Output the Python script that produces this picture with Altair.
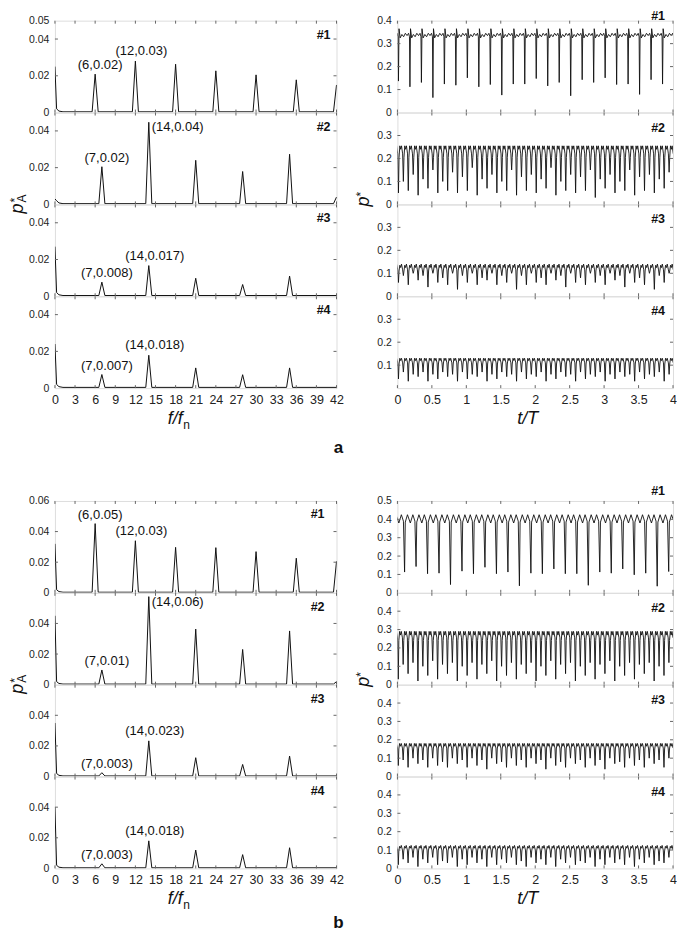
import altair as alt
import pandas as pd

FONT = "Liberation Sans"
INK = "#111111"
FRAME = "#666666"
LABEL = "#222222"

WL, WR, H, GAP_ROW = 282, 276, 92, 113

F_TICKS = [0, 3, 6, 9, 12, 15, 18, 21, 24, 27, 30, 33, 36, 39, 42]
T_TICKS = [0, 0.5, 1, 1.5, 2, 2.5, 3, 3.5, 4]

# ---------------- spectra (harmonic f/fn, amplitude p*_A) ----------------
A1_F = [6, 12, 18, 24, 30, 36, 42]
A1_P = [0.0209, 0.0280, 0.0263, 0.0227, 0.0205, 0.0178, 0.0150]
A2_F = [7, 14, 21, 28, 35, 42]
A2_P = [0.0205, 0.0447, 0.0240, 0.0179, 0.0273, 0.0040]
A3_F = [7, 14, 21, 28, 35]
A3_P = [0.0077, 0.0167, 0.0098, 0.0064, 0.0110]
A4_F = [7, 14, 21, 28, 35]
A4_P = [0.0074, 0.0179, 0.0110, 0.0073, 0.0110]
B1_F = [6, 12, 18, 24, 30, 36, 42]
B1_P = [0.0452, 0.0340, 0.0297, 0.0295, 0.0269, 0.0226, 0.0205]
B2_F = [7, 14, 21, 28, 35, 42]
B2_P = [0.0096, 0.0575, 0.0363, 0.0230, 0.0351, 0.0020]
B3_F = [7, 14, 21, 28, 35]
B3_P = [0.0025, 0.0233, 0.0123, 0.0079, 0.0134]
B4_F = [7, 14, 21, 28, 35]
B4_P = [0.0030, 0.0180, 0.0120, 0.0090, 0.0135]
DC_A = [0.025, 0.003, 0.027, 0.024]
DC_B = [0.032, 0.045, 0.035, 0.040]
LOW_F = [0.25, 0.6, 1.2]
LOW_P = [0.0020, 0.0008, 0.0004]
FLOOR = 0.0004

NOTES_A = [["(6,0.02)", "(12,0.03)"], ["(7,0.02)", "(14,0.04)"],
           ["(7,0.008)", "(14,0.017)"], ["(7,0.007)", "(14,0.018)"]]
NOTES_B = [["(6,0.05)", "(12,0.03)"], ["(7,0.01)", "(14,0.06)"],
           ["(7,0.003)", "(14,0.023)"], ["(7,0.003)", "(14,0.018)"]]

# ---------------- pressure time histories (dip minima per cycle) ----------------
A1_DIPS = [0.137, 0.112, 0.131, 0.065, 0.124, 0.119, 0.151, 0.112, 0.122, 0.076, 0.124, 0.124,
           0.148, 0.116, 0.131, 0.073, 0.143, 0.131, 0.151, 0.122, 0.124, 0.079, 0.143, 0.124]
A1_PH = [0.05, 0.15, 0.30, 0.45, 0.60, 0.75, 0.88, 0.96]
A1_LV = [0.365, 0.325, 0.340, 0.330, 0.345, 0.335, 0.345, 0.330]

B1_DIPS = [0.113, 0.143, 0.104, 0.107, 0.045, 0.118, 0.104, 0.139, 0.104, 0.113, 0.038, 0.107,
           0.104, 0.130, 0.104, 0.104, 0.041, 0.113, 0.107, 0.130, 0.098, 0.107, 0.036, 0.116]
B1_PH = [0.06, 0.25, 0.50, 0.72, 0.90]
B1_LV = [0.385, 0.425, 0.380, 0.425, 0.390]

A2_DIPS = [0.05, 0.10, 0.06, 0.13, 0.04, 0.11, 0.07, 0.15, 0.05, 0.10, 0.06, 0.14, 0.05, 0.12,
           0.06, 0.16, 0.04, 0.11, 0.07, 0.13, 0.05, 0.10, 0.06, 0.15, 0.04, 0.12, 0.06, 0.13,
           0.05, 0.11, 0.07, 0.16, 0.04, 0.10, 0.06, 0.13, 0.05, 0.12, 0.06, 0.15, 0.03, 0.11,
           0.07, 0.13, 0.05, 0.10, 0.06, 0.15, 0.04, 0.12, 0.06, 0.13, 0.05, 0.11, 0.07, 0.14]
A3_DIPS = [0.06, 0.09, 0.05, 0.10, 0.07, 0.09, 0.04, 0.10, 0.06, 0.08, 0.05, 0.10, 0.03, 0.09,
           0.06, 0.10, 0.05, 0.08, 0.07, 0.10, 0.05, 0.09, 0.06, 0.10, 0.03, 0.09, 0.05, 0.10,
           0.06, 0.08, 0.05, 0.10, 0.07, 0.09, 0.04, 0.10, 0.06, 0.08, 0.05, 0.10, 0.06, 0.09,
           0.05, 0.10, 0.07, 0.09, 0.04, 0.10, 0.06, 0.08, 0.05, 0.10, 0.03, 0.09, 0.06, 0.10]
A4_DIPS = [0.04, 0.07, 0.03, 0.06, 0.05, 0.07, 0.03, 0.06, 0.04, 0.07, 0.05, 0.06, 0.03, 0.07,
           0.04, 0.06, 0.05, 0.07, 0.03, 0.06, 0.04, 0.07, 0.05, 0.06, 0.03, 0.07, 0.04, 0.06,
           0.05, 0.07, 0.03, 0.06, 0.04, 0.07, 0.05, 0.06, 0.03, 0.07, 0.04, 0.06, 0.05, 0.07,
           0.03, 0.06, 0.04, 0.07, 0.05, 0.06, 0.03, 0.07, 0.04, 0.06, 0.05, 0.07, 0.03, 0.06]
B2_DIPS = [0.03, 0.11, 0.06, 0.12, 0.02, 0.10, 0.05, 0.13, 0.03, 0.11, 0.06, 0.12, 0.02, 0.10,
           0.05, 0.12, 0.03, 0.11, 0.06, 0.13, 0.02, 0.10, 0.05, 0.12, 0.03, 0.11, 0.06, 0.12,
           0.02, 0.10, 0.05, 0.13, 0.03, 0.11, 0.06, 0.12, 0.02, 0.10, 0.05, 0.12, 0.03, 0.11,
           0.06, 0.13, 0.02, 0.10, 0.05, 0.12, 0.03, 0.11, 0.06, 0.12, 0.02, 0.10, 0.05, 0.12]
B3_DIPS = [0.06, 0.09, 0.05, 0.10, 0.07, 0.09, 0.05, 0.10, 0.06, 0.08, 0.05, 0.10, 0.07, 0.09,
           0.05, 0.10, 0.06, 0.09, 0.04, 0.10, 0.07, 0.08, 0.05, 0.10, 0.06, 0.09, 0.05, 0.10,
           0.07, 0.09, 0.04, 0.10, 0.06, 0.08, 0.05, 0.10, 0.07, 0.09, 0.05, 0.10, 0.06, 0.09,
           0.04, 0.10, 0.07, 0.08, 0.05, 0.10, 0.06, 0.09, 0.05, 0.10, 0.07, 0.09, 0.05, 0.10]
B4_DIPS = [0.02, 0.05, 0.03, 0.06, 0.01, 0.05, 0.03, 0.06, 0.02, 0.04, 0.03, 0.06, 0.01, 0.05,
           0.02, 0.06, 0.03, 0.05, 0.01, 0.06, 0.02, 0.05, 0.03, 0.06, 0.02, 0.04, 0.01, 0.06,
           0.03, 0.05, 0.02, 0.06, 0.01, 0.05, 0.03, 0.06, 0.02, 0.04, 0.03, 0.06, 0.01, 0.05,
           0.02, 0.06, 0.03, 0.05, 0.02, 0.06, 0.01, 0.05, 0.03, 0.06, 0.02, 0.04, 0.03, 0.06]
DENSE_PH = [0.12, 0.28, 0.45, 0.62, 0.85]
A2_LV = [0.205, 0.255, 0.240, 0.255, 0.220]
A3_LV = [0.110, 0.135, 0.125, 0.140, 0.115]
A4_LV = [0.105, 0.130, 0.120, 0.130, 0.110]
B2_LV = [0.240, 0.290, 0.270, 0.290, 0.255]
B3_LV = [0.150, 0.180, 0.165, 0.180, 0.155]
B4_LV = [0.095, 0.120, 0.110, 0.125, 0.100]


def spectrum_df(freqs, amps, dc):
    f = [0.0] + LOW_F
    p = [dc] + LOW_P
    for fh, ph in zip(freqs, amps):
        f += [fh - 0.45, fh, fh + 0.45]
        p += [FLOOR, ph, FLOOR]
    if f[-1] < 42.5:
        f.append(42.5)
        p.append(FLOOR)
    return pd.DataFrame({"f": f, "p": p})


def wave_df(t0, per_t, dips, phases, levels):
    P = 1.0 / per_t
    t, v = [], []
    for k in range(-1, len(dips)):
        tk = t0 + k * P
        if k >= 0:
            t.append(tk)
            v.append(dips[k])
        for a, b in zip(phases, levels):
            t.append(tk + a * P)
            v.append(b)
    return pd.DataFrame({"t": t, "v": v})


def sc(dom):
    return alt.Scale(domain=dom, nice=False, zero=False)


def yaxis(vals):
    return alt.Axis(values=vals, format="~g", ticks=False, domain=False, grid=False, title=None,
                    labelFont=FONT, labelFontSize=10.5, labelPadding=6, labelFlush=False,
                    labelOverlap=False, labelColor=LABEL)


def xaxis(vals, fmt, show):
    return alt.Axis(values=vals, format=fmt, ticks=False, domain=False, grid=False, title=None,
                    labels=show, labelFont=FONT, labelFontSize=12.5, labelPadding=5,
                    labelFlush=False, labelOverlap=False, labelColor=LABEL)


def inward_ticks(xvals, yvals, xdom, ydom, xax, yax, W, L=3):
    xd = pd.DataFrame({"xt": xvals})
    yd = pd.DataFrame({"yt": yvals})
    X = alt.X("xt:Q", scale=sc(xdom), axis=xax)
    Y = alt.Y("yt:Q", scale=sc(ydom), axis=yax)
    st = dict(color=FRAME, strokeWidth=1)
    return [
        alt.Chart(xd).mark_rule(**st).encode(x=X, y=alt.value(0), y2=alt.value(L)),
        alt.Chart(xd).mark_rule(**st).encode(x=X, y=alt.value(H), y2=alt.value(H - L)),
        alt.Chart(yd).mark_rule(**st).encode(y=Y, x=alt.value(0), x2=alt.value(L)),
        alt.Chart(yd).mark_rule(**st).encode(y=Y, x=alt.value(W), x2=alt.value(W - L)),
    ]


def txt(s, x, y, **mk):
    base = dict(font=FONT, color=INK)
    base.update(mk)
    return alt.Chart(pd.DataFrame({"s": [s]})).mark_text(**base).encode(
        text="s:N", x=alt.value(x), y=alt.value(y))


def spec_panel(F, P, dc, ymax, ylabels, yticks, tag, tag_x, tag_y, notes, bottom, extra=()):
    xdom, ydom = [0, 42], [0, ymax]
    xax = xaxis(F_TICKS, "d", bottom)
    yax = yaxis(ylabels)
    df = spectrum_df(F, P, dc)
    line = alt.Chart(df).mark_line(color=INK, strokeWidth=1, clip=True).encode(
        x=alt.X("f:Q", scale=sc(xdom), axis=xax),
        y=alt.Y("p:Q", scale=sc(ydom), axis=yax),
    )
    layers = [line] + inward_ticks(F_TICKS, yticks, xdom, ydom, xax, yax, WL)
    layers.append(txt(tag, WL - tag_x, tag_y, fontSize=12.5, fontWeight="bold",
                      align="right", baseline="middle"))
    for (s, fi, pi, al, dx, dy) in notes:
        d = pd.DataFrame({"s": [s], "f": [fi], "p": [pi]})
        layers.append(alt.Chart(d).mark_text(font=FONT, fontSize=13, color=INK, align=al,
                                             baseline="middle", dx=dx, dy=dy).encode(
            text="s:N", x=alt.X("f:Q", scale=sc(xdom), axis=xax),
            y=alt.Y("p:Q", scale=sc(ydom), axis=yax)))
    layers += list(extra)
    return alt.layer(*layers).properties(width=WL, height=H)


def time_panel(df, ymax, ylabels, yticks, tag, tag_y, bottom, extra=()):
    xdom, ydom = [0, 4], [0, ymax]
    xax = xaxis(T_TICKS, "~g", bottom)
    yax = yaxis(ylabels)
    line = alt.Chart(df).mark_line(color=INK, strokeWidth=0.9, clip=True).encode(
        x=alt.X("t:Q", scale=sc(xdom), axis=xax),
        y=alt.Y("v:Q", scale=sc(ydom), axis=yax),
    )
    layers = [line] + inward_ticks(T_TICKS, yticks, xdom, ydom, xax, yax, WR)
    layers.append(txt(tag, WR - 8, tag_y, fontSize=12.5, fontWeight="bold",
                      align="right", baseline="middle"))
    layers += list(extra)
    return alt.layer(*layers).properties(width=WR, height=H)


def pa_title():
    return [
        txt("p", -32, 9, fontSize=18, fontStyle="italic", angle=270, align="left",
            baseline="alphabetic"),
        txt("A", -29, -2, fontSize=12, angle=270, align="left", baseline="alphabetic"),
        txt("*", -36, -2, fontSize=12, angle=270, align="left", baseline="alphabetic"),
    ]


def p_title():
    return [
        txt("p", -28, 2, fontSize=18, fontStyle="italic", angle=270, align="left",
            baseline="alphabetic"),
        txt("*", -32, -8, fontSize=12, angle=270, align="left", baseline="alphabetic"),
    ]


def f_title():
    return [
        txt("f/f", 113, H + 36, fontSize=18, fontStyle="italic", align="left",
            baseline="alphabetic"),
        txt("n", 128.5, H + 41, fontSize=12, align="left", baseline="alphabetic"),
    ]


def t_title():
    return [txt("t/T", 120, H + 36, fontSize=18, fontStyle="italic", align="left",
                baseline="alphabetic")]


def notes_for(texts, F, P, right_second):
    n1 = (texts[0], F[0], P[0], "center", 5, -9)
    if right_second:
        n2 = (texts[1], F[1], P[1], "left", 3, 5)
    else:
        n2 = (texts[1], F[1], P[1], "center", 6, -10)
    return [n1, n2]


# ---------------- group a ----------------
LA = [
    spec_panel(A1_F, A1_P, DC_A[0], 0.05, [0, 0.02, 0.04, 0.05], [0.02, 0.04], "#1", 6, 14,
               notes_for(NOTES_A[0], A1_F, A1_P, False), False),
    spec_panel(A2_F, A2_P, DC_A[1], 0.05, [0, 0.02, 0.04], [0.02, 0.04], "#2", 6, 14,
               notes_for(NOTES_A[1], A2_F, A2_P, True), False),
    spec_panel(A3_F, A3_P, DC_A[2], 0.05, [0, 0.02, 0.04], [0.02, 0.04], "#3", 6, 14,
               notes_for(NOTES_A[2], A3_F, A3_P, False), False, pa_title()),
    spec_panel(A4_F, A4_P, DC_A[3], 0.05, [0, 0.02, 0.04], [0.02, 0.04], "#4", 6, 14,
               notes_for(NOTES_A[3], A4_F, A4_P, False), True, f_title()),
]
RA = [
    time_panel(wave_df(0.015, 6, A1_DIPS, A1_PH, A1_LV), 0.4, [0, 0.1, 0.2, 0.3, 0.4],
               [0.1, 0.2, 0.3], "#1", -5, False),
    time_panel(wave_df(0.015, 14, A2_DIPS, DENSE_PH, A2_LV), 0.4, [0, 0.1, 0.2, 0.3],
               [0.1, 0.2, 0.3], "#2", 15, False),
    time_panel(wave_df(0.015, 14, A3_DIPS, DENSE_PH, A3_LV), 0.4, [0, 0.1, 0.2, 0.3],
               [0.1, 0.2, 0.3], "#3", 15, False, p_title()),
    time_panel(wave_df(0.015, 14, A4_DIPS, DENSE_PH, A4_LV), 0.4, [0.1, 0.2, 0.3],
               [0.1, 0.2, 0.3], "#4", 15, True, t_title()),
]

# ---------------- group b ----------------
LB = [
    spec_panel(B1_F, B1_P, DC_B[0], 0.06, [0, 0.02, 0.04, 0.06], [0.02, 0.04], "#1", 12, 13,
               notes_for(NOTES_B[0], B1_F, B1_P, False), False),
    spec_panel(B2_F, B2_P, DC_B[1], 0.06, [0, 0.02, 0.04], [0.02, 0.04], "#2", 12, 14,
               notes_for(NOTES_B[1], B2_F, B2_P, True), False),
    spec_panel(B3_F, B3_P, DC_B[2], 0.06, [0, 0.02, 0.04], [0.02, 0.04], "#3", 12, 14,
               notes_for(NOTES_B[2], B3_F, B3_P, False), False, pa_title()),
    spec_panel(B4_F, B4_P, DC_B[3], 0.06, [0, 0.02, 0.04], [0.02, 0.04], "#4", 12, 14,
               notes_for(NOTES_B[3], B4_F, B4_P, False), True, f_title()),
]
RB = [
    time_panel(wave_df(0.104, 6, B1_DIPS, B1_PH, B1_LV), 0.5, [0, 0.1, 0.2, 0.3, 0.4, 0.5],
               [0.1, 0.2, 0.3, 0.4], "#1", -10, False),
    time_panel(wave_df(0.012, 14, B2_DIPS, DENSE_PH, B2_LV), 0.5, [0, 0.1, 0.2, 0.3, 0.4],
               [0.1, 0.2, 0.3, 0.4], "#2", 15, False),
    time_panel(wave_df(0.012, 14, B3_DIPS, DENSE_PH, B3_LV), 0.5, [0, 0.1, 0.2, 0.3, 0.4],
               [0.1, 0.2, 0.3, 0.4], "#3", 15, False, p_title()),
    time_panel(wave_df(0.012, 14, B4_DIPS, DENSE_PH, B4_LV), 0.5, [0, 0.1, 0.2, 0.3, 0.4],
               [0.1, 0.2, 0.3, 0.4], "#4", 15, True,
               t_title() + [txt("b", -59, H + 55, fontSize=17, fontWeight="bold",
                                align="center", baseline="middle")]),
]

spacer_l = txt("", 0, 0).properties(width=WL, height=GAP_ROW,
                                     view=alt.ViewBackground(stroke="transparent"))
spacer_r = txt("a", -59, 60, fontSize=17, fontWeight="bold", align="center",
               baseline="middle").properties(width=WR, height=GAP_ROW,
                                             view=alt.ViewBackground(stroke="transparent"))

cells = []
for l, r in zip(LA, RA):
    cells += [l, r]
cells += [spacer_l, spacer_r]
for l, r in zip(LB, RB):
    cells += [l, r]

chart = alt.concat(*cells, columns=2, spacing={"row": 0, "column": 61},
                   bounds="flush", align="each").properties(
    padding={"left": 0, "top": 0, "right": 0, "bottom": 0}
).configure_view(stroke=FRAME, strokeWidth=1).configure(background="white")

chart.save("out.html", embed_options={"renderer": "svg", "actions": False})
